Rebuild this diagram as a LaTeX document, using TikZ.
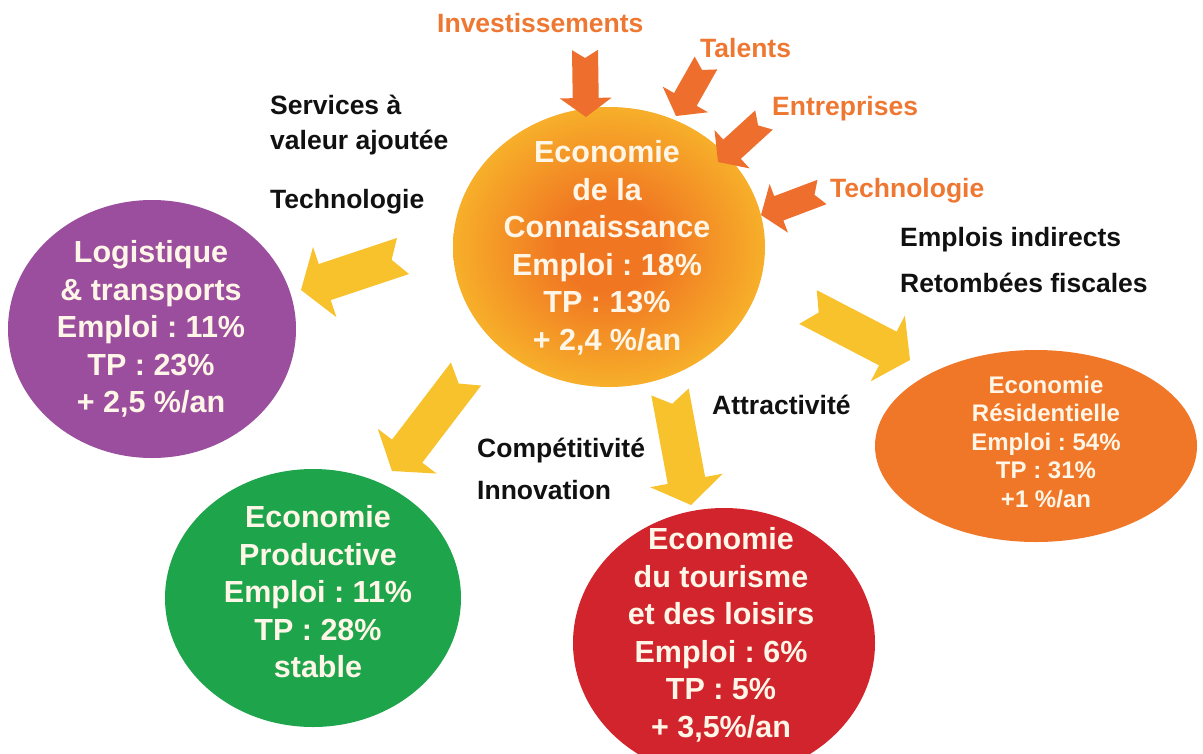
\documentclass[tikz,border=0pt]{standalone}
\usepackage{fontspec}
\setmainfont{Liberation Sans}
\usetikzlibrary{calc}
\frenchspacing

\definecolor{sunC}{RGB}{249,192,44}
\definecolor{coreC}{RGB}{240,118,34}
\definecolor{purpleC}{RGB}{155,78,158}
\definecolor{greenC}{RGB}{30,165,76}
\definecolor{redC}{RGB}{209,36,44}
\definecolor{resC}{RGB}{240,118,40}
\definecolor{inArrowC}{RGB}{238,110,45}
\definecolor{outArrowC}{RGB}{248,194,45}
\definecolor{labelO}{RGB}{238,120,50}
\definecolor{inkK}{RGB}{17,17,17}
\definecolor{inkW}{RGB}{255,246,232}

% warm orange core fading into the yellow disc
\pgfdeclareradialshading{coreglow}{\pgfpoint{0bp}{0bp}}{%
  color(0bp)=(coreC); color(8bp)=(coreC); color(30bp)=(sunC); color(50bp)=(sunC)}

\tikzset{
  circtext/.style={text=inkW, align=center, inner sep=0pt,
    font=\bfseries\fontsize{30.5}{37.5}\selectfont},
  smalltext/.style={text=inkW, align=center, inner sep=0pt,
    font=\bfseries\fontsize{24}{28.5}\selectfont},
  blacklbl/.style={anchor=base west, inner sep=0pt, text=inkK,
    font=\bfseries\fontsize{26.5}{30}\selectfont},
  orangelbl/.style={blacklbl, text=labelO},
}

% notched block arrow: #1 tail, #2 tip, #3 shaft half-width,
% #4 head half-width, #5 head length, #6 notch depth, #7 colour
\newcommand\notcharrow[7]{%
  \coordinate (hb) at ($(#2)!#5!(#1)$);
  \fill[#7] ($(#1)!#3!90:(#2)$) -- ($(hb)!#3!90:(#2)$) -- ($(hb)!#4!90:(#2)$)
    -- (#2) -- ($(hb)!#4!-90:(#2)$) -- ($(hb)!#3!-90:(#2)$)
    -- ($(#1)!#3!-90:(#2)$) -- ($(#1)!#6!(#2)$) -- cycle;
}

\begin{document}
\begin{tikzpicture}[x=1pt,y=-1pt]
\useasboundingbox (0,0) rectangle (1203,753);
\fill[white] (0,0) rectangle (1203,753);

% centres of the five discs
\coordinate (know) at (609,247);
\coordinate (logi) at (152,329);
\coordinate (prod) at (313,598);
\coordinate (tour) at (724,643);
\coordinate (resi) at (1036,446);

\shade[shading=coreglow] (know) ellipse [x radius=156, y radius=140];
\fill[purpleC] (logi) ellipse [x radius=144, y radius=129];
\fill[greenC] (prod) ellipse [x radius=148, y radius=129];
\fill[redC] (tour) ellipse [x radius=151, y radius=135];
\fill[resC] (resi) ellipse [x radius=161, y radius=96];

% texts inside the discs
\node[circtext] (knowtxt) at (607,248) {Economie\\de la\\Connaissance\\Emploi : 18\%\\TP : 13\%\\+ 2,4 \%/an};
\node[circtext] (logitxt) at (151,329) {Logistique\\\& transports\\Emploi : 11\%\\TP : 23\%\\+ 2,5 \%/an};
\node[circtext] (prodtxt) at (318,592) {Economie\\Productive\\Emploi : 11\%\\TP : 28\%\\stable};
\node[circtext] (tourtxt) at (721,635) {Economie\\du tourisme\\et des loisirs\\Emploi : 6\%\\TP : 5\%\\+ 3,5\%/an};
\node[smalltext] (resitxt) at (1046,442) {Economie\\Résidentielle\\Emploi : 54\%\\TP : 31\%\\+1 \%/an};

% incoming inputs
\coordinate (invT) at (585,50);  \coordinate (invP) at (586,117);
\coordinate (talT) at (706,63);  \coordinate (talP) at (676,116);
\coordinate (entT) at (764,120); \coordinate (entP) at (718,162);
\coordinate (tecT) at (822,192); \coordinate (tecP) at (761,215);
\notcharrow{invT}{invP}{13pt}{26pt}{19pt}{8pt}{inArrowC}
\notcharrow{talT}{talP}{13pt}{26pt}{19pt}{8pt}{inArrowC}
\notcharrow{entT}{entP}{13pt}{26pt}{19pt}{8pt}{inArrowC}
\notcharrow{tecT}{tecP}{13pt}{26pt}{19pt}{8pt}{inArrowC}

% outgoing flows
\coordinate (toLogiT) at (403,256); \coordinate (toLogiP) at (301,290);
\coordinate (toProdT) at (466,374); \coordinate (toProdP) at (392,471);
\coordinate (toTourT) at (670,392); \coordinate (toTourP) at (691,505);
\coordinate (toResiT) at (808,307); \coordinate (toResiP) at (910,360);
\notcharrow{toLogiT}{toLogiP}{19pt}{37pt}{25pt}{12pt}{outArrowC}
\notcharrow{toProdT}{toProdP}{19pt}{37pt}{25pt}{12pt}{outArrowC}
\notcharrow{toTourT}{toTourP}{19pt}{37pt}{25pt}{12pt}{outArrowC}
\notcharrow{toResiT}{toResiP}{19pt}{37pt}{25pt}{12pt}{outArrowC}

% input labels
\node[orangelbl] (linv) at (437,32) {Investissements};
\node[orangelbl] (ltal) at (700,57) {Talents};
\node[orangelbl] (lent) at (772,115) {Entreprises};
\node[orangelbl] (ltec) at (830,197) {Technologie};

% flow labels
\node[blacklbl] (lserv) at (270,114) {Services à};
\node[blacklbl] (lval) at (270,149) {valeur ajoutée};
\node[blacklbl] (ltech) at (270,208) {Technologie};
\node[blacklbl] (lempl) at (900,246) {Emplois indirects};
\node[blacklbl] (lfisc) at (900,292) {Retombées fiscales};
\node[blacklbl] (lattr) at (712,414) {Attractivité};
\node[blacklbl] (lcomp) at (477,457) {Compétitivité};
\node[blacklbl] (linno) at (477,499) {Innovation};
\end{tikzpicture}
\end{document}
